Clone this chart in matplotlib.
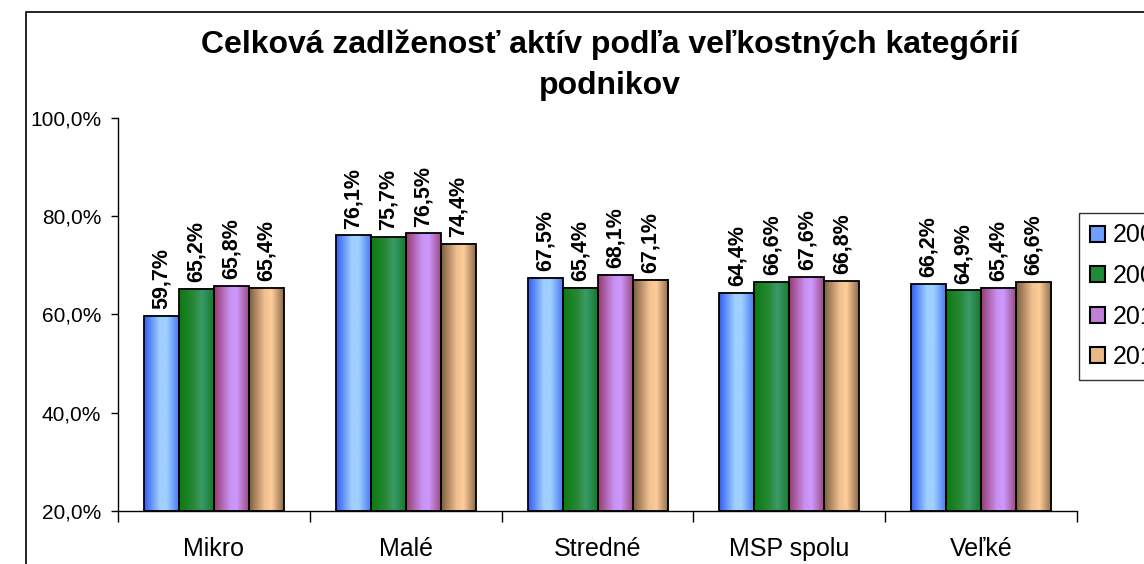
import numpy as np
import matplotlib.pyplot as plt
from matplotlib.colors import LinearSegmentedColormap
from matplotlib.patches import Patch, Rectangle

plt.rcParams['font.family'] = ['Liberation Sans', 'DejaVu Sans']

categories = ['Mikro', 'Malé', 'Stredné', 'MSP spolu', 'Veľké']
years = ['2008', '2009', '2010', '2011']
v2008 = [59.7, 76.1, 67.5, 64.4, 66.2]
v2009 = [65.2, 75.7, 65.4, 66.6, 64.9]
v2010 = [65.8, 76.5, 68.1, 67.6, 65.4]
v2011 = [65.4, 74.4, 67.1, 66.8, 66.6]
series = [v2008, v2009, v2010, v2011]

# dark edge -> light middle -> darker edge, like the old office gradient fill
grads = [
    ['#2f5cf5', '#9fd0ff', '#9fd0ff', '#4a78f0'],
    ['#0a7a10', '#2a8a3a', '#3a9a6a', '#147a2a'],
    ['#963a6e', '#c890f0', '#cc99ff', '#9a4a80'],
    ['#7a5c40', '#f0c090', '#ffcc99', '#8a6a4a'],
]
legend_cols = ['#6fa0ff', '#1f8a3a', '#c080d8', '#e8b888']

fig = plt.figure(figsize=(11.44, 5.64), dpi=100)
ax = fig.add_axes([118/1144, 1-511/564, (1077-118)/1144, (511-118)/564])

n = len(series)
gap = 1.48
w = 1.0 / (n + gap)
x = np.arange(len(categories))
grad = np.linspace(0, 1, 256).reshape(1, -1)

for i, (vals, cols) in enumerate(zip(series, grads)):
    cmap = LinearSegmentedColormap.from_list('g%d' % i,
                                             list(zip([0, 0.45, 0.65, 1], cols)))
    offs = x - 0.5 + gap * w / 2 + i * w
    bars = ax.bar(offs, [v - 20 for v in vals], width=w, bottom=20, align='edge',
                  facecolor='none', edgecolor='black', linewidth=1.3, zorder=3)
    for b, v in zip(bars, vals):
        ax.imshow(grad, cmap=cmap, aspect='auto', zorder=2,
                  extent=[b.get_x(), b.get_x() + b.get_width(), 20, v])
        ax.text(b.get_x() + b.get_width() / 2, v + 1.4,
                ('%.1f%%' % v).replace('.', ','), rotation=90,
                ha='center', va='bottom', fontsize=15.5, fontweight='bold')

ax.set_xlim(-0.5, len(categories) - 0.5)
ax.set_ylim(20, 100)
ax.set_yticks([20, 40, 60, 80, 100])
ax.set_yticklabels(['%d,0%%' % t for t in [20, 40, 60, 80, 100]], fontsize=15)
ax.set_xticks(np.arange(len(categories) + 1) - 0.5)
ax.set_xticklabels([])
ax.set_xticks(x, minor=True)
ax.set_xticklabels(categories, minor=True, fontsize=18)
ax.tick_params(axis='x', which='major', length=8, direction='out', width=1)
ax.tick_params(axis='x', which='minor', length=0, pad=19)
ax.tick_params(axis='y', length=5, width=1, pad=7)
for s in ['top', 'right']:
    ax.spines[s].set_visible(False)
for s in ['left', 'bottom']:
    ax.spines[s].set_linewidth(1)

fig.text(610/1144, 1-45/564, 'Celková zadlženosť aktív podľa veľkostných kategórií',
         ha='center', va='center', fontsize=23, fontweight='bold')
fig.text(610/1144, 1-86/564, 'podnikov',
         ha='center', va='center', fontsize=23, fontweight='bold')

# outer chart frame
fig.patches.append(Rectangle((26/1144, -0.1), 1.2, 1.1 - 12/564,
                             transform=fig.transFigure, fill=False,
                             edgecolor='black', linewidth=1.2))

handles = [Patch(facecolor=c, edgecolor='black', linewidth=1.5) for c in legend_cols]
fig.legend(handles, years, loc='upper left', bbox_to_anchor=(1079/1144, 1-213/564),
           fontsize=18, frameon=True, fancybox=False, edgecolor='black',
           handlelength=0.6, handleheight=0.6, labelspacing=0.66,
           borderpad=0.42, handletextpad=0.32, borderaxespad=0)

fig.savefig('out.png', dpi=100)
